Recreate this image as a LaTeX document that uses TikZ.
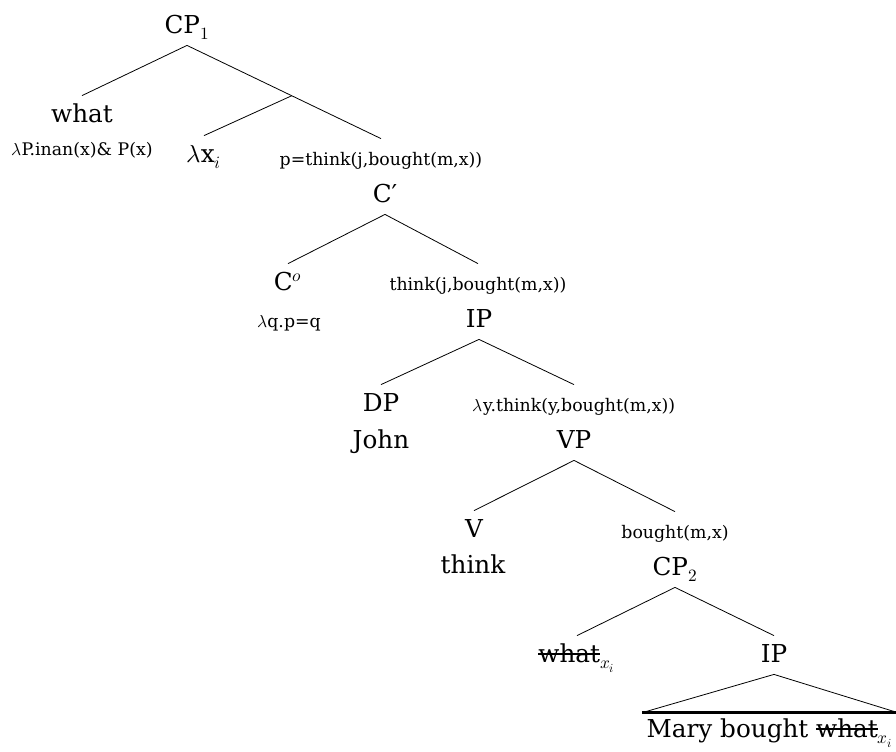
\documentclass[tikz,border=0pt]{standalone}
\usepackage{fontspec}
\usepackage{unicode-math}
\setmainfont{DejaVu Serif}
\setmathfont{latinmodern-math.otf}
\usepackage{tikz}
\usetikzlibrary{calc}
\tikzset{every picture/.style={line width=0.6pt}}
\newsavebox\strkbox
\newcommand\strk[1]{\sbox\strkbox{#1}\rlap{\usebox\strkbox}\rule[0.27em]{\wd\strkbox}{0.08em}}

\begin{document}
\begin{tikzpicture}[x=0.75pt,y=0.75pt,yscale=-1,xscale=1,
  cat/.style={anchor=base,inner sep=0pt,text height=19.5pt,text depth=9pt,font=\fontsize{18.5}{22}\selectfont},
  sem/.style={cat,font=\fontsize{13}{16}\selectfont}]
\useasboundingbox (0,0) rectangle (896,751);

% Text Node
\draw (187,33) node [cat] (cp1) {CP$_1$};
% Text Node
\draw (82,122) node [cat] (what) {what};
% Text Node
\draw (82,155) node [sem] (lamP) {$\lambda$P.inan(x)\& P(x)};
% Text Node
\draw (204,162) node [cat] (lamx) {$\lambda$x$_i$};
% Text Node
\draw (381,165) node [sem] (pthink) {p=think(j,bought(m,x))};
% Text Node
\draw (385,202) node [cat] (cbar) {C′};
% Text Node
\draw (288,290) node [cat] (co) {C$^o$};
% Text Node
\draw (289,327) node [sem] (lamq) {$\lambda$q.p=q};
% Text Node
\draw (478,290) node [sem] (thinkj) {think(j,bought(m,x))};
% Text Node
\draw (479,327) node [cat] (ip) {IP};
% Text Node
\draw (381,411) node [cat] (dp) {DP};
% Text Node
\draw (381,448) node [cat] (john) {John};
% Text Node
\draw (574,411) node [sem] (lamy) {$\lambda$y.think(y,bought(m,x))};
% Text Node
\draw (574,448) node [cat] (vp) {VP};
% Text Node
\draw (474,537) node [cat] (v) {V};
% Text Node
\draw (473,573) node [cat] (think) {think};
% Text Node
\draw (675,538) node [sem] (bought) {bought(m,x)};
% Text Node
\draw (675,575) node [cat] (cp2) {CP$_2$};
% Text Node
\draw (577,662) node [cat] (whatx) {\strk{what}$_{x_i}$};
% Text Node
\draw (774,662) node [cat] (ip2) {IP};
% Text Node
\draw (770,737) node [cat,text height=18pt,inner xsep=3pt] (mary) {Mary bought \strk{what}$_{x_i}$};

%Straight Lines
\draw (cp1.south) -- (what.north) ;
\draw (cp1.south) -- (pthink.north) ;
\coordinate (adj) at ($(cp1.south)!0.54!(pthink.north)$) ;
\draw (adj) -- (lamx.north) ;
%Straight Lines
\draw (cbar.south) -- (co.north) ;
\draw (cbar.south) -- (thinkj.north) ;
%Straight Lines
\draw (ip.south) -- (dp.north) ;
\draw (ip.south) -- (lamy.north) ;
%Straight Lines
\draw (vp.south) -- (v.north) ;
\draw (vp.south) -- (bought.north) ;
%Straight Lines
\draw (cp2.south) -- (whatx.north) ;
\draw (cp2.south) -- (ip2.north) ;
%Shape: Triangle
\draw (mary.north west) -- (ip2.south) -- (mary.north east) ;
\draw [line width=2.2pt] (mary.north west) -- (mary.north east) ;

\end{tikzpicture}
\end{document}
